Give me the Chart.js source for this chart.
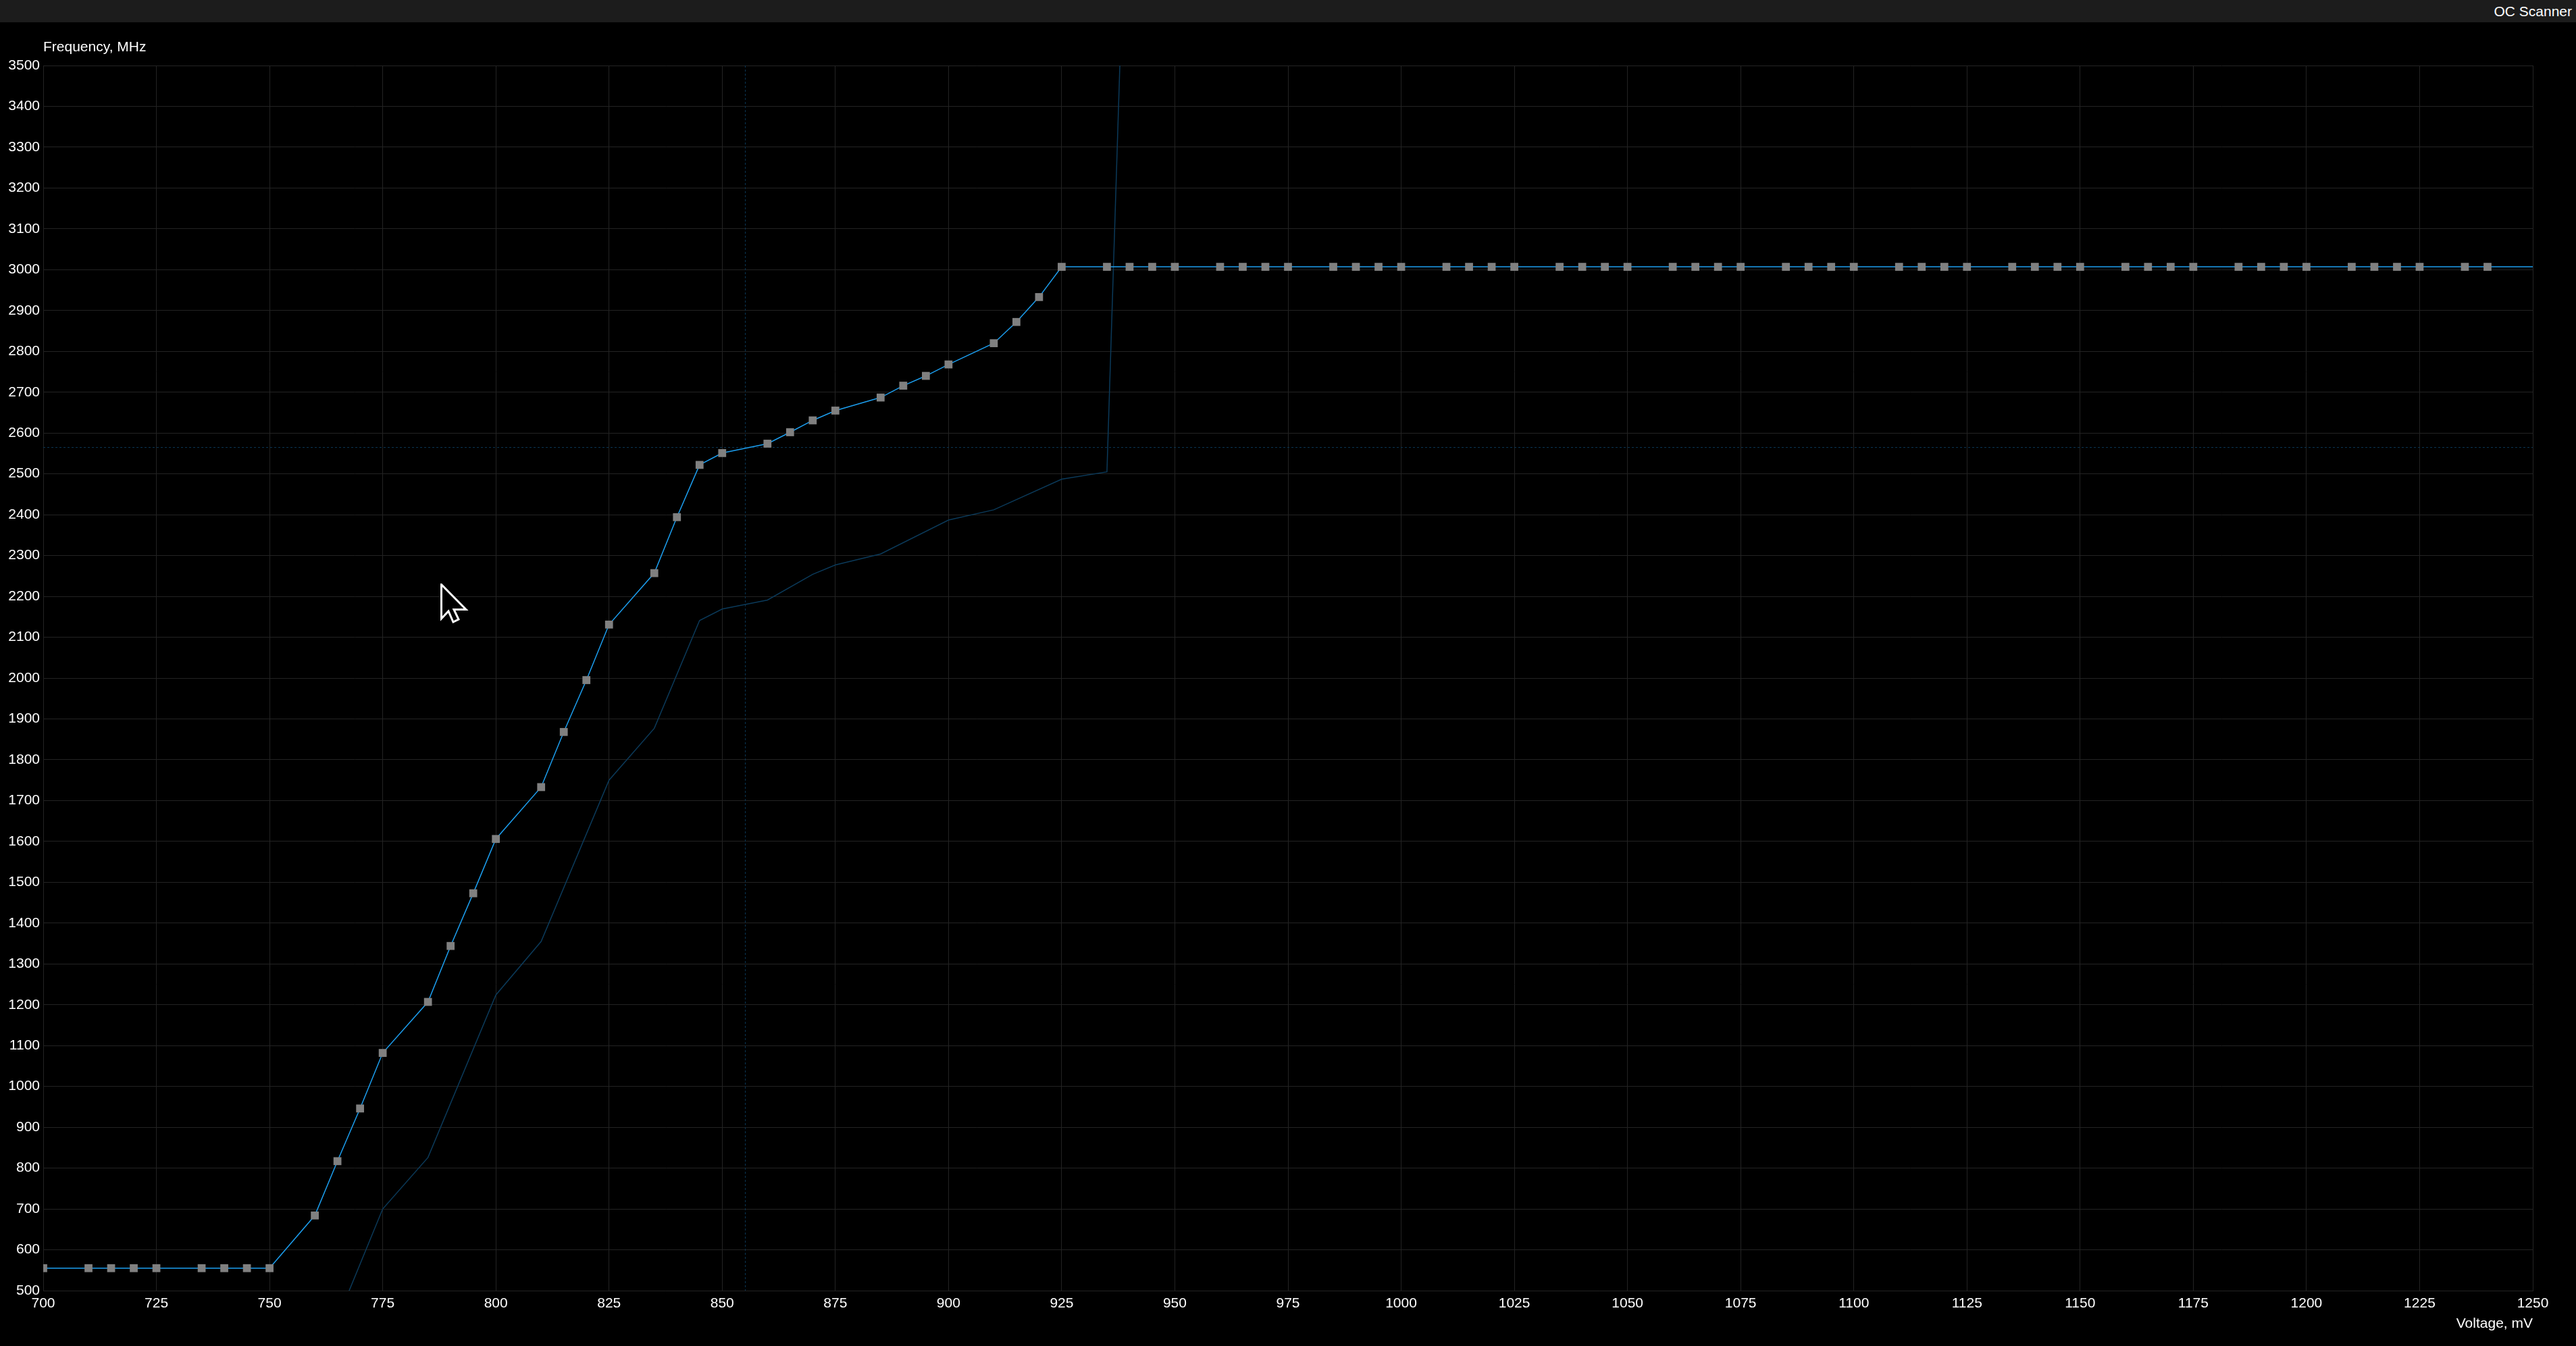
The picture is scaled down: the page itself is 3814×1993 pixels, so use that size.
<!DOCTYPE html>
<html>
<head>
<meta charset="utf-8">
<title>OC Scanner</title>
<script src="https://cdn.jsdelivr.net/npm/chart.js@4.4.1/dist/chart.umd.min.js"></script>
<style>
  html, body { margin: 0; padding: 0; background: #000; overflow: hidden; }
  body { width: 3814px; height: 1993px; position: relative; font-family: "Liberation Sans", Arial, sans-serif; }
  .titlebar {
    position: absolute; left: 0; top: 0; width: 3814px; height: 33px;
    background: #1c1c1c; color: #fff; font-size: 21px; line-height: 33px;
    text-align: right; padding-right: 6px; box-sizing: border-box;
  }
  .chart-wrap { position: absolute; left: 0; top: 33px; width: 3814px; height: 1960px; }
  .cursor { position: absolute; left: 652px; top: 864px; }
</style>
</head>
<body>
<div class="titlebar">OC Scanner</div>
<div class="chart-wrap"><canvas id="curveGraph"></canvas></div>
<svg class="cursor" width="44" height="62" viewBox="0 0 44 62">
  <polygon points="1.5,1.5 1.5,52 12,41 19,57 27,53 20,38.5 38,38.5" fill="#000" stroke="#fff" stroke-width="3" stroke-linejoin="miter"/>
</svg>

<script>
// V/F curve points (mV -> MHz)
const curveVoltage = [
    700, 710, 715, 720, 725, 735, 740, 745, 750, 760, 765, 770, 775,
    785, 790, 795, 800, 810, 815, 820, 825, 835, 840, 845, 850,
    860, 865, 870, 875, 885, 890, 895, 900, 910, 915, 920, 925,
    935, 940, 945, 950, 960, 965, 970, 975, 985, 990, 995, 1000,
    1010, 1015, 1020, 1025, 1035, 1040, 1045, 1050, 1060, 1065, 1070, 1075,
    1085, 1090, 1095, 1100, 1110, 1115, 1120, 1125, 1135, 1140, 1145, 1150,
    1160, 1165, 1170, 1175, 1185, 1190, 1195, 1200, 1210, 1215, 1220, 1225,
    1235, 1240, 1250
];
const curveFrequency = [
    555, 555, 555, 555, 555, 555, 555, 555, 555, 684, 817, 946, 1082,
    1207, 1344, 1473, 1606, 1733, 1868, 1995, 2131, 2257, 2394, 2522, 2551,
    2574, 2602, 2631, 2655, 2687, 2716, 2740, 2768, 2820, 2872, 2933, 3007,
    3007, 3007, 3007, 3007, 3007, 3007, 3007, 3007, 3007, 3007, 3007, 3007,
    3007, 3007, 3007, 3007, 3007, 3007, 3007, 3007, 3007, 3007, 3007, 3007,
    3007, 3007, 3007, 3007, 3007, 3007, 3007, 3007, 3007, 3007, 3007, 3007,
    3007, 3007, 3007, 3007, 3007, 3007, 3007, 3007, 3007, 3007, 3007, 3007,
    3007, 3007, 3007
];

// scanner reference curve (dark line)
const scanVoltage = [765, 775, 785, 800, 810, 825, 835, 845, 850, 860, 870, 875, 885, 900, 910, 925, 935, 940];
const scanFrequency = [430, 700, 826, 1224, 1355, 1750, 1877, 2141, 2169, 2191, 2254, 2277, 2304, 2387, 2412, 2487, 2505, 4250];

// axis ranges / tick steps
const voltageRange = [700, 1250];
const voltageStep = 25;
const frequencyRange = [500, 3500];
const frequencyStep = 100;

// crosshair under the mouse
const hoverVoltage = 855;
const hoverFrequency = 2565;

const FONT = { family: '"Liberation Sans", Arial, sans-serif', size: 21 };
const GRID = '#232323';
const plainNumber = v => String(v);

const overlayPlugin = {
    id: 'overlay',
    beforeDatasetsDraw(chart) {
        const { ctx, chartArea: a, scales: { x, y } } = chart;
        const px = Math.round(x.getPixelForValue(hoverVoltage)) + 0.5;
        const py = Math.round(y.getPixelForValue(hoverFrequency)) + 0.5;
        ctx.save();
        ctx.strokeStyle = '#0a3654';
        ctx.lineWidth = 1;
        ctx.setLineDash([3, 3]);
        ctx.beginPath();
        ctx.moveTo(px, a.top); ctx.lineTo(px, a.bottom);
        ctx.moveTo(a.left, py); ctx.lineTo(a.right, py);
        ctx.stroke();
        ctx.restore();
    },
    afterDraw(chart) {
        const { ctx, chartArea: a } = chart;
        ctx.save();
        ctx.font = `${FONT.size}px ${FONT.family}`;
        ctx.fillStyle = '#fff';
        ctx.textBaseline = 'alphabetic';
        ctx.fillText('Frequency, MHz', a.left, a.top - 21);
        ctx.restore();
    }
};

const ctx = document.getElementById('curveGraph').getContext('2d');
new Chart(ctx, {
    type: 'line',
    data: {
        datasets: [{
            label: 'Curve',
            data: curveVoltage.map((v, i) => ({ x: v, y: curveFrequency[i] })),
            borderColor: '#1c9ff0',
            borderWidth: 1.5,
            pointStyle: 'rect',
            pointRadius: c => (c.raw && c.raw.x >= voltageRange[1] ? 0 : 8.3),
            pointBackgroundColor: '#808080',
            pointBorderWidth: 0,
            tension: 0,
            clip: 0
        }, {
            label: 'Scan',
            data: scanVoltage.map((v, i) => ({ x: v, y: scanFrequency[i] })),
            borderColor: '#0b3a5a',
            borderWidth: 1.5,
            pointRadius: 0,
            tension: 0,
            clip: 0
        }]
    },
    options: {
        responsive: true,
        maintainAspectRatio: false,
        animation: false,
        events: [],
        layout: { padding: { left: 0, top: 64, right: 64, bottom: 0 } },
        plugins: { legend: { display: false }, tooltip: { enabled: false } },
        scales: {
            x: {
                type: 'linear',
                min: voltageRange[0],
                max: voltageRange[1],
                afterFit: s => { s.height = 82; },
                ticks: {
                    stepSize: voltageStep, color: '#fff', font: FONT, padding: 7,
                    autoSkip: false, maxRotation: 0, callback: plainNumber
                },
                grid: { color: GRID, drawTicks: false },
                border: { color: GRID },
                title: {
                    display: true, text: 'Voltage, mV', align: 'end', color: '#fff',
                    font: FONT, padding: { top: 0, bottom: 20 }
                }
            },
            y: {
                min: frequencyRange[0],
                max: frequencyRange[1],
                afterFit: s => { s.width = 64; },
                ticks: { stepSize: frequencyStep, color: '#fff', font: FONT, padding: 5, callback: plainNumber },
                grid: { color: GRID, drawTicks: false },
                border: { color: GRID }
            }
        }
    },
    plugins: [overlayPlugin]
});
</script>
</body>
</html>
